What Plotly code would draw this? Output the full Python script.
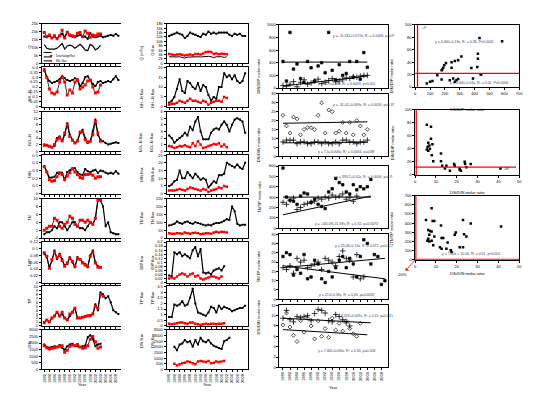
import plotly.graph_objects as go

W, H = 536, 395
years = list(range(1980, 2010))
yr_labels = list(range(1980, 2010, 2))

# ---------------- column 1 (time series, dual axis) ----------------
c1_titles_left = ["Q", "NH₄-N", "NO₃-N", "DIN", "TN", "DIP", "TP", "DSi"]
c1_titles_right = ["Q (m³/s)", "NH₄-N flux", "NO₃-N flux", "DIN flux", "TN flux", "DIP flux", "TP flux", "DSi flux"]
c1_legend = ["Discharge/flux", "Mo. flux", "Q"]
c1_black = [
    [17000,16500,17500,16000,17000,16000,17500,18500,16500,20000,17500,17000,16500,17500,18000,16500,17000,15500,19000,17000,16500,17000,17500,16500,17000,17500,18000,17500,18500,17500],
    [0.38,0.30,0.26,0.24,0.25,0.26,0.28,0.31,0.29,0.27,0.26,0.27,0.29,0.28,0.21,0.24,0.30,0.31,0.27,0.23,0.21,0.25,0.26,0.24,0.25,0.26,0.25,0.28,0.31,0.27],
    [2.0,1.8,1.5,1.3,1.6,4.0,4.5,3.0,5.0,8.5,5.0,3.5,2.5,3.0,5.5,6.5,4.0,2.5,3.0,6.0,9.6,5.0,3.5,3.0,2.5,2.0,2.3,2.5,2.7,2.5],
    [0.36,0.28,0.21,0.21,0.22,0.27,0.26,0.27,0.18,0.28,0.30,0.33,0.33,0.28,0.25,0.24,0.32,0.29,0.28,0.30,0.31,0.27,0.30,0.29,0.27,0.26,0.27,0.26,0.29,0.26],
    [1.0,1.5,1.5,2.0,3.0,2.5,4.0,4.0,3.0,2.0,3.0,4.0,4.0,3.0,2.5,2.5,2.0,3.0,4.0,3.5,5.0,9.8,9.5,8.0,3.0,4.0,1.5,1.2,1.0,1.0],
    [0.085,0.075,0.045,0.065,0.095,0.070,0.085,0.070,0.050,0.055,0.075,0.060,0.045,0.075,0.070,0.060,0.055,0.045,0.080,0.095,0.060,0.048,0.045],
    [1.0,1.5,1.0,2.0,2.5,3.5,2.5,3.0,2.0,1.5,2.5,3.5,4.5,2.0,2.0,2.2,2.4,2.5,2.8,3.0,5.5,4.0,8.5,8.0,7.0,7.5,6.0,4.0,3.5,3.0],
    [1900,1700,1650,1700,1750,1700,1850,1650,1500,1750,1900,1950,1800,1750,1700,1750,1800,2450,2600,2300,1750,1900,1950],
]
c1_red = [
    [19500,17000,18000,16000,17500,15500,17500,21000,16000,19500,18000,17500,17000,19000,19500,17000,20500,19000,16500,18000,17500,18500,18500],
    [0.37,0.30,0.18,0.14,0.13,0.15,0.25,0.30,0.25,0.12,0.17,0.14,0.25,0.27,0.18,0.20,0.22,0.26,0.27,0.20,0.14,0.15,0.22],
    [1.8,1.8,1.5,1.2,2.0,3.5,4.0,3.2,5.5,8.0,4.5,3.3,2.5,3.2,5.8,5.8,3.5,2.8,3.0,5.0,9.0,5.5,3.0],
    [0.35,0.28,0.18,0.16,0.17,0.22,0.27,0.25,0.18,0.23,0.27,0.32,0.28,0.25,0.21,0.20,0.25,0.25,0.26,0.24,0.20,0.22,0.22],
    [2.0,2.5,3.0,3.0,5.0,4.5,3.0,2.5,3.5,4.0,5.5,5.0,3.5,3.0,4.5,4.5,4.0,4.5,4.0,3.5,5.0,9.5,9.8],
    [0.088,0.078,0.042,0.068,0.090,0.075,0.080,0.065,0.048,0.058,0.072,0.062,0.048,0.072,0.068,0.058,0.052,0.048,0.078,0.090,0.058,0.045,0.045],
    [0.8,1.5,1.0,2.0,2.5,3.5,2.5,3.5,2.0,1.5,3.0,3.5,4.5,2.0,2.0,2.2,2.4,2.6,2.6,3.0,5.0,4.5,8.0,7.5],
    [1800,1650,1550,1600,1650,1700,1750,1800,1300,1450,1750,1850,1800,1900,1700,1600,1650,1800,2300,2500,2100,1600,1700],
]
c1_q_n = [11800,9500,9000,8800,9000,9500,11000,12500,9000,11000,11500,11000,9500,10500,12000,10500,8500,8000,12000,11000,8500,9500,11500]
c1_left_range = [[0,25000,5000],[0,0.4,0.05],[0,12,2],[0,0.5,0.1],[0,10,2],[0,0.12,0.02],[0,10,1],[0,3000,500]]
c1_right_range = [[0,25000,5000],[0,8,1],[0,4,0.5],[0,8,2],[0,10,2],[0,0.12,0.02],[0,5,1],[0,25,5]]

# ---------------- column 2 (time series) ----------------
c2_titles = ["Q", "NH₄-N", "NO₃-N", "DIN", "TN", "DIP", "TP", "DSi"]
c2_black = [
    [12500,13000,13500,14000,13500,13000,11500,12500,14000,13500,13000,12500,12000,13500,13000,14500,13500,14000,13500,14000,14000,14000,14000,13000,12500,13500,13000,13500,12500,12500],
    [2,3,5,9,14,8,7,13,12,10,9,12,8,11,10,6,3,5,4,10,10,17,15,16,14,16,13,12,13,17],
    [2.4,2.0,1.3,1.7,2.0,2.3,2.8,2.4,3.7,3.2,4.5,5.2,3.0,1.8,1.8,1.8,2.8,3.3,3.5,3.3,4.0,4.5,4.0,3.0,4.0,4.8,5.0,4.8,4.5,2.8],
    [5,6,8,9,15,10,10,14,12,10,13,11,9,10,9,4,6,8,7,12,12,13,20,19,18,17,19,17,16,20],
    [80,85,90,105,95,90,100,105,95,90,100,95,90,85,80,85,80,90,95,95,100,110,120,115,200,170,90,80,85,85],
    [0.035,0.03,0.15,0.14,0.15,0.13,0.14,0.13,0.12,0.16,0.175,0.13,0.165,0.05,0.045,0.05,0.04,0.06,0.065,0.07,0.06,0.08],
    [0.8,0.8,1.9,1.8,1.9,2.2,1.8,1.9,2.5,3.3,2.0,1.2,1.1,1.0,0.9,1.2,1.7,1.6,1.2,1.8,1.5,1.7,1.6,1.5,1.3,1.4,1.5,1.6,1.6,1.8],
    [None,None,2000,1700,2200,2300,2600,2400,2500,2000,2600,2200,2800,2500,2400,2600,2300,2100,2000,1900,1800,2500,2600,2800],
]
c2_red = [
    [4200,4000,3800,4000,4100,3900,3600,3800,4000,3700,4200,4300,4000,4500,5200,5300,5200,4300,4500,4100,4400,4300,4100],
    [1.0,1.5,1.5,2.0,3.0,2.5,2.0,3.0,4.0,3.0,3.0,2.5,2.0,3.0,2.5,1.0,2.0,2.5,3.0,3.0,2.5,5.0,4.5],
    [0.8,0.7,0.5,0.6,0.8,0.7,0.9,0.7,0.6,1.2,0.8,1.5,1.0,0.5,0.6,0.8,0.9,1.1,1.0,1.2,0.7,1.0,0.6],
    [2,2,2,2.5,3,2.5,2,3,4,3.5,3,2.5,2,3,2.5,1,2,2.5,3,4,3.5,5,4.5],
    [30,28,27,30,30,27,35,30,28,32,33,30,25,28,30,30,28,35,40,35,40,38,35],
    [0.02,0.025,0.02,0.03,0.04,0.045,0.04,0.03,0.04,0.045,0.03,0.035,0.02,0.015,0.02,0.025,0.03,0.03,0.025,0.02,0.03],
    [0.2,0.15,0.2,0.25,0.3,0.3,0.25,0.2,0.3,0.3,0.2,0.15,0.1,0.15,0.2,0.15,0.2,0.2,0.15,0.2,0.2,0.25],
    [None,None,500,350,450,550,600,700,650,550,450,700,750,700,650,750,550,600,700,650,700,750],
]
c2_black2 = [3000,2900,2800,2900,3000,2700,2400,2800,2900,2700,2900,3000,2900,3100,3300,3200,3000,2600,3000,3100,3000,2700,3000]
c2_range = [[0,18000,2000],[0,20,5],[0,6,1],[0,25,5],[0,250,50],[0,0.2,0.02],[0,3.5,0.5],[0,3500,500]]

# ---------------- column 3 (ratios vs year) ----------------
c3_titles = ["DIN/DIP molar ratio", "DSi/DIN molar ratio", "TN/TP molar ratio", "TN/TP molar ratio", "DSi/DIN molar ratio"]
c3_range = [[0,1000,200],[0,35,5],[0,600,100],[0,35,5],[0,12,2]]
c3_a = [
    [420,110,880,300,380,150,90,420,320,110,350,400,240,880,280,130,370,200,230,420,170,420,140,560,330],
    [23,17,13,22,21,12,15,16,16,15,23,30,13,26,25,13,14,19,13,19,12,20,17,12,15],
    [580,300,270,260,230,310,340,330,250,280,230,210,190,350,380,480,440,420,350,330,420,370,400,380,400,470],
    [23,25,24,13,16,14,24,11,12,21,19,11,9,15,12,17,21,23,17,22,19,12,23,32,30,19,24,23,8,10],
    [8.2,10.5,7.8,6.2,5.0,9.0,6.8,9.5,8.0,5.5,9.0,6.0,7.5,5.8,9.5,7.2,8.5,7.0,9.0,7.5,6.5,6.0,8.5],
]
c3_b = [
    [40,30,60,100,20,90,130,60,80,110,140,70,90,120,150,100,110,130,160,150,180,170,190,200,200],
    [8,9,9,9,7,8,8,7,7,8,8,7,8,7,7,8,7,9,9,8,8,7,8,8,9],
    [250,230,270,290,180,200,230,240,250,260,290,280,300,290,320,300,310,330,280,300,260,310],
    [17,16,18,14,22,20,21,17,18,19,20,16,22,21,20,18,23,26,22,21,12,24,11,12],
    [9.5,11.0,9.2,8.8,9.8,9.6,9.8,10.0,9.0,10.4,11.2,11.0,10.5,9.0,8.8,10.2,9.8,9.2,8.6,8.0],
]
c3_fit = [  # (y at start, y at end, start year, end year)
    [(410,410,1980,2004),(30,190,1980,2004)],
    [(18.5,19.3,1980,2004),(7.5,7.8,1980,2004)],
    [(300,300,1980,2005),(130,310,1980,2005)],
    [(17,22,1980,2009),(18,11,1980,2009)],
    [(9.5,8.6,1980,2005),(7.3,6.3,1980,2004)],
]
c3_eq_top = ["y = -11.332+0.072x, R² = 0.0006, p=0.9", "y = -31.02+0.009x, R² = 0.0016, p=0.37",
             "y = 393.2+0.02x, R² = 0.0006, p=0.9", "y = 25.08+0.10x, R² = 0.072, p=0.027",
             "y = 8.203+0.007x, R² = 0.11, p=0.021"]
c3_eq_bot = ["y = -3.9+0.06x, R² = 0.0043, p<0.001", "y = 7.5+0.006x, R² = 0.0016, p=0.88",
             "y = -100.09+11.39x, R² = 0.32, p=0.0073", "y = 21.6-0.18x, R² = 0.30, p=0.0032",
             "y = 7.400-0.030x, R² = 0.30, p=0.003"]

# ---------------- column 4 (ratio vs ratio) ----------------
c4_p1_x = [585,433,422,422,418,440,378,389,311,289,267,245,207,196,189,182,178,245,149,178,116,100,78,233,256,278,289,267,444]
c4_p1_y = [73.5,79,53.5,45.5,32,20.6,30.7,13.8,49,43,42,40,38.6,35,31,28,27,31,19,12,9.5,8.5,5.8,11,13.8,11,13,8.5,20]
c4_p2_x = [5.6,7.6,7.6,6.3,6.8,6.0,7.1,6.3,8.3,8.0,8.7,5.6,12.4,12.4,13.0,15.0,14.3,16.7,18.7,19.0,21.4,22.0,23.8,24.0,24.6,26.7,21.4,41.0]
c4_p2_y = [77,74,55.6,49.5,45,43,40,37,47,30,21,39,33,21,14,14,10,6.5,16.7,14,10,6.5,20,16.7,11.6,16.7,8,10]
c4_p3_x = [7.9,5.2,8.4,9.2,6.3,7.1,7.9,6.8,6.3,5.9,6.8,7.9,9.2,8.7,12.4,12.7,13.5,11.9,12.7,15.0,15.6,17.1,17.5,19.0,19.5,23.0,23.5,24.6,21.4,23.0,26.7,41.3]
c4_p3_y = [563,434,423,423,326,315,308,272,229,207,200,207,254,158,373,237,237,137,121,121,190,104,86,272,297,434,280,254,137,137,397,362]
c4_xtitles = ["DSi/DIP molar ratio", "DSi/DIN molar ratio", "DSi/DIN molar ratio"]
c4_ytitles = ["DIN/DIP molar ratio", "DIN/DIP molar ratio", "TN/TP molar ratio"]
c4_red_h = [22, 12, 4]
c4_red_v = [16, 0.5, 0.3]

# ================= building =================
FAM = "Liberation Sans, Arial, sans-serif"
FONT = dict(family=FAM, size=4, color="black")
fig = go.Figure()
lay = dict(width=W, height=H, margin=dict(l=0, r=0, t=0, b=0),
           paper_bgcolor="white", plot_bgcolor="white", showlegend=False)
annotations = []
shapes = []
cnt = {"x": 0, "y": 0}


def axis_base():
    return dict(showline=True, linecolor="black", linewidth=1, ticks="outside", ticklen=2,
                tickwidth=0.6, tickcolor="black", showgrid=False, zeroline=False, tickfont=FONT)


def new_x():
    cnt["x"] += 1
    n = cnt["x"]
    return ("xaxis" if n == 1 else f"xaxis{n}"), ("x" if n == 1 else f"x{n}")


def new_y():
    cnt["y"] += 1
    n = cnt["y"]
    return ("yaxis" if n == 1 else f"yaxis{n}"), ("y" if n == 1 else f"y{n}")


def panel(x0, x1, top, bot, xr, xdt, yr, show_xlab, yside="left", mirror_y=True, xtickvals=None):
    xk, xref = new_x()
    yk, yref = new_y()
    xa = axis_base()
    xa.update(domain=[x0/W, x1/W], range=xr, anchor=yref, mirror=True, showticklabels=show_xlab)
    if xtickvals is not None:
        xa.update(tickmode="array", tickvals=xtickvals, tickangle=-90)
    else:
        xa.update(tick0=0, dtick=xdt)
    ya = axis_base()
    ya.update(domain=[1-bot/H, 1-top/H], range=[yr[0], yr[1]], dtick=yr[2], tick0=0, anchor=xref,
              mirror=mirror_y, side=yside)
    lay[xk] = xa
    lay[yk] = ya
    return xref, yref


def sec_y(xref, yref, yr, side="right"):
    yk, yref2 = new_y()
    ya = axis_base()
    ya.update(overlaying=yref, side=side, range=[yr[0], yr[1]], dtick=yr[2], tick0=0, anchor=xref)
    lay[yk] = ya
    return yref2


def vtitle(text, x, y, size=4):
    annotations.append(dict(text=text, x=x/W, y=1-y/H, xref="paper", yref="paper", showarrow=False,
                            textangle=-90, font=dict(size=size, family=FAM, color="black")))


def htitle(text, x, y, size=4, color="black", xanchor="center"):
    annotations.append(dict(text=text, x=x/W, y=1-y/H, xref="paper", yref="paper", showarrow=False,
                            xanchor=xanchor, font=dict(size=size, family=FAM, color=color)))


rows = [(13, 53), (57, 97), (102, 142), (146, 185), (190, 230), (234, 275), (279, 319), (323, 363)]
XR = [1979, 2010]

# column 1
for i, (t, b) in enumerate(rows):
    last = i == len(rows) - 1
    xr_, yr_ = panel(33, 113, t, b, XR, 2, c1_left_range[i], last, mirror_y=False,
                     xtickvals=yr_labels)
    yr2 = sec_y(xr_, yr_, c1_right_range[i])
    blk = c1_black[i]
    red = c1_red[i]
    fig.add_trace(go.Scatter(x=years[:len(blk)], y=blk, mode="lines+markers", xaxis=xr_, yaxis=yr_,
                             line=dict(color="black", width=1.2), marker=dict(symbol="square", size=2, color="black")))
    fig.add_trace(go.Scatter(x=years[:len(red)], y=red, mode="lines+markers", xaxis=xr_, yaxis=yr_,
                             line=dict(color="black", width=0.8), marker=dict(symbol="square", size=3, color="red")))
    if i == 0:
        fig.add_trace(go.Scatter(x=years[:len(c1_q_n)], y=c1_q_n, mode="lines", xaxis=xr_, yaxis=yr_,
                                 line=dict(color="black", width=1.2)))
    vtitle(c1_titles_left[i], 16, (t+b)/2)
    vtitle(c1_titles_right[i], 129, (t+b)/2)
htitle("Year", 74, 383)

# manual legend for column 1, panel 1
leg_y = [42, 46.5, 50.5]
leg_col = ["black", "red", "black"]
for k, txt in enumerate(c1_legend):
    shapes.append(dict(type="line", xref="paper", yref="paper", x0=35/W, x1=43/W,
                       y0=1-leg_y[k]/H, y1=1-leg_y[k]/H, line=dict(color="black", width=1)))
    if k < 2:
        annotations.append(dict(text="■", x=39/W, y=1-leg_y[k]/H, xref="paper", yref="paper", showarrow=False,
                                font=dict(size=3.5, color=leg_col[k], family=FAM)))
    htitle(txt, 45, leg_y[k], size=3, xanchor="left")

# column 2
for i, (t, b) in enumerate(rows):
    last = i == len(rows) - 1
    xr_, yr_ = panel(159, 241, t, b, XR, 2, c2_range[i], last, xtickvals=yr_labels)
    blk = c2_black[i]
    red = c2_red[i]
    fig.add_trace(go.Scatter(x=years[:len(blk)], y=blk, mode="lines+markers", xaxis=xr_, yaxis=yr_,
                             line=dict(color="black", width=1.2), marker=dict(symbol="square", size=2, color="black")))
    fig.add_trace(go.Scatter(x=years[:len(red)], y=red, mode="lines+markers", xaxis=xr_, yaxis=yr_,
                             line=dict(color="red", width=1), marker=dict(symbol="square", size=2.5, color="red")))
    if i == 0:
        fig.add_trace(go.Scatter(x=years[:len(c2_black2)], y=c2_black2, mode="lines", xaxis=xr_, yaxis=yr_,
                                 line=dict(color="black", width=1)))
    vtitle(c2_titles[i] + " flux", 140, (t+b)/2)
htitle("Year", 200, 383)

# column 3
rows3 = [(14, 78), (84, 147), (157, 220), (226, 292), (298, 361)]
for i, (t, b) in enumerate(rows3):
    last = i == len(rows3) - 1
    xr_, yr_ = panel(273, 383, t, b, XR, 2, c3_range[i], last, xtickvals=yr_labels)
    a = c3_a[i]
    bb = c3_b[i]
    fig.add_trace(go.Scatter(x=years[:len(a)], y=a, mode="markers", xaxis=xr_, yaxis=yr_,
                             marker=dict(symbol="diamond-open" if i in (1, 4) else "square", size=3 if i in (1, 4) else 2.5,
                                         color="black", line=dict(width=0.7, color="black"))))
    fig.add_trace(go.Scatter(x=years[:len(bb)], y=bb, mode="markers", xaxis=xr_, yaxis=yr_,
                             marker=dict(symbol="cross-thin-open", size=4, color="black", line=dict(width=0.8, color="black"))))
    for (y0, y1, s, e) in c3_fit[i]:
        fig.add_trace(go.Scatter(x=[s, e], y=[y0, y1], mode="lines", xaxis=xr_, yaxis=yr_,
                                 line=dict(color="black", width=1)))
    rng = c3_range[i][1]
    annotations.append(dict(text=c3_eq_top[i], x=2003, y=rng*0.82, xref=xr_, yref=yr_, showarrow=False,
                            font=dict(size=3.5, family=FAM)))
    annotations.append(dict(text=c3_eq_bot[i], x=1998, y=rng*0.06 if i != 4 else rng*0.27, xref=xr_, yref=yr_,
                            showarrow=False, font=dict(size=3.5, family=FAM)))
    vtitle(c3_titles[i], 252, (t+b)/2)
htitle("Year", 328, 386)

# column 4
rows4 = [(14, 77), (100, 166), (187, 252)]
c4_xr = [[0, 700, 100], [0, 50, 10], [0, 50, 10]]
c4_yr = [[0, 100, 20], [0, 100, 20], [0, 700, 100]]
c4_x = [c4_p1_x, c4_p2_x, c4_p3_x]
c4_y = [c4_p1_y, c4_p2_y, c4_p3_y]
c4_refs = []
for i, (t, b) in enumerate(rows4):
    xr_, yr_ = panel(410, 515, t, b, [c4_xr[i][0], c4_xr[i][1]], c4_xr[i][2], c4_yr[i], True)
    c4_refs.append((xr_, yr_))
    xs, ys = c4_x[i], c4_y[i]
    fig.add_trace(go.Scatter(x=xs, y=ys, mode="markers", xaxis=xr_, yaxis=yr_,
                             marker=dict(symbol="square", size=2.5, color="black")))
    fig.add_trace(go.Scatter(x=[c4_xr[i][0], c4_xr[i][1] * (0.97 if i == 1 else 1)], y=[c4_red_h[i]] * 2, mode="lines",
                             xaxis=xr_, yaxis=yr_, line=dict(color="red", width=1.3)))
    fig.add_trace(go.Scatter(x=[c4_red_v[i]] * 2, y=[c4_yr[i][0], c4_yr[i][1]], mode="lines",
                             xaxis=xr_, yaxis=yr_, line=dict(color="red", width=1.3)))
    htitle(c4_xtitles[i], 463, b + 18)
    vtitle(c4_ytitles[i], 391, (t+b)/2)

(x1r, y1r), (x2r, y2r), (x3r, y3r) = c4_refs
annotations.append(dict(text="y = 0.000+0.13x, R² = 0.33, P<0.0001", x=120, y=72, xref=x1r, yref=y1r,
                        showarrow=False, xanchor="left", font=dict(size=3.5, family=FAM)))
annotations.append(dict(text="y = 0.000+0.01x, R² = 0.01, P<0.0001", x=220, y=7, xref=x1r, yref=y1r,
                        showarrow=False, xanchor="left", font=dict(size=3.5, family=FAM)))
annotations.append(dict(text="+P", x=60, y=95, xref=x1r, yref=y1r, showarrow=False,
                        font=dict(size=3.5, family=FAM)))
annotations.append(dict(text="JM", x=44, y=9, xref=x2r, yref=y2r, showarrow=False,
                        font=dict(size=3.5, family=FAM)))
annotations.append(dict(text="y = 7.00x + 10.00, R² = 0.01, p<0.001", x=12, y=65, xref=x3r, yref=y3r,
                        showarrow=False, xanchor="left", font=dict(size=3.5, family=FAM)))
annotations.append(dict(text="-20%", x=0, y=0, xref=x3r, yref=y3r, ax=-13, ay=15, showarrow=True,
                        arrowcolor="red", arrowwidth=0.8, arrowhead=2, arrowside="start",
                        font=dict(size=4, family=FAM, color="black")))

lay["annotations"] = annotations
lay["shapes"] = shapes
fig.update_layout(**lay)
fig.write_html("out.html")
